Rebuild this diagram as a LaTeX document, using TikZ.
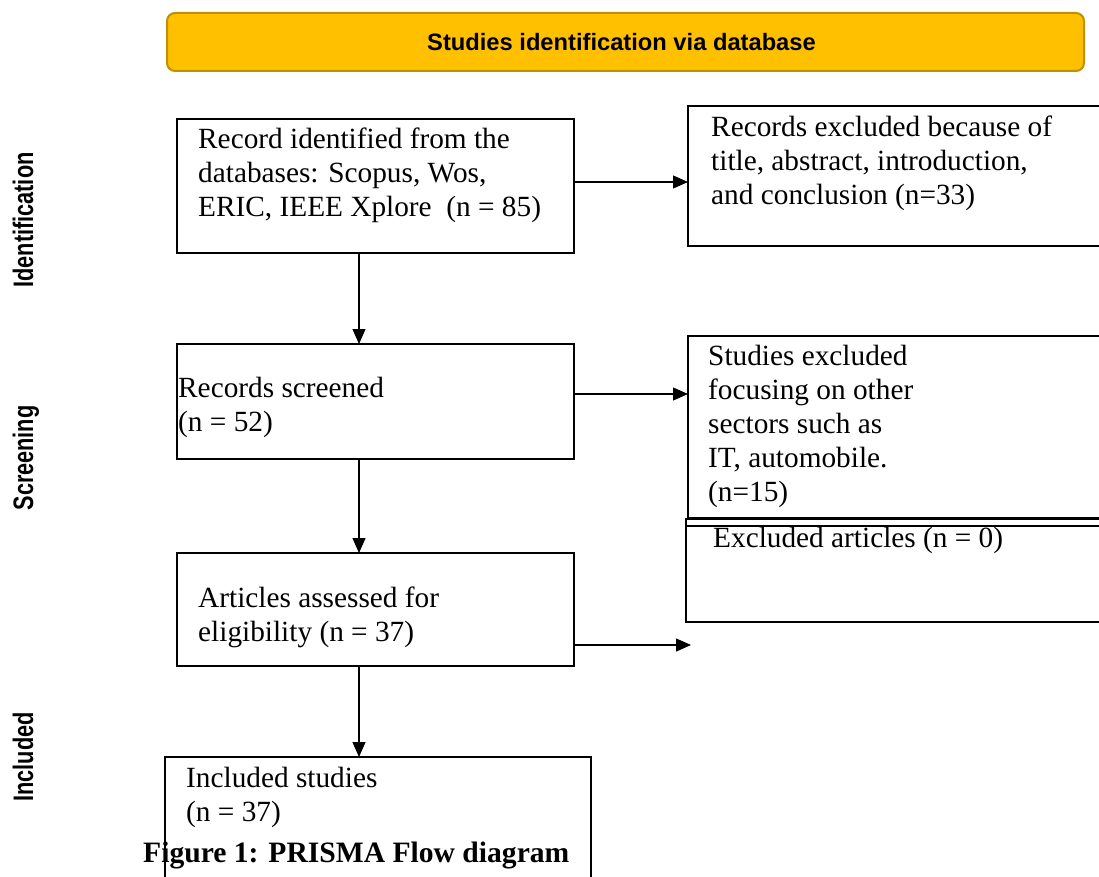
\documentclass[tikz,border=0pt]{standalone}
\usepackage{graphicx}
\usepackage{fontspec}
\setmainfont{Liberation Serif}
\newfontfamily\sansf{Liberation Sans}
\usetikzlibrary{arrows.meta}
\definecolor{bannerfill}{HTML}{FFC000}
\definecolor{bannerdraw}{HTML}{BF9000}
\begin{document}
\begin{tikzpicture}[x=1pt,y=-1pt,
  box/.style={draw=black, line width=2.2pt, rectangle, inner sep=0pt, outer sep=0pt, anchor=north west},
  txt/.style={anchor=north west, inner sep=0pt, align=left, font=\fontsize{29.3}{34}\selectfont},
  arr/.style={line width=1.2pt, -{Triangle[length=15pt,width=13pt]}},
  side/.style={rotate=90, anchor=base, inner sep=0pt, font=\sansf\bfseries\fontsize{21.7}{26}\selectfont}
]
\clip (0,0) rectangle (1099,877);
% banner
\node[draw=bannerdraw, fill=bannerfill, line width=2pt, rounded corners=8pt,
  minimum width=917pt, minimum height=58pt, anchor=north west, inner sep=0pt] (banner) at (166,12) {};
\node[font=\sansf\bfseries\fontsize{23.7}{28}\selectfont] (bannertext) at ([xshift=-4pt]banner.center) {Studies identification via database};
% side labels
\node[side] (sideid) at (33,220) {\scalebox{1}[1.3]{Identification}};
\node[side] (sidescr) at (33,458) {\scalebox{1}[1.3]{Screening}};
\node[side] (sideinc) at (33,757) {\scalebox{1}[1.3]{Included}};
% boxes
\node[box, minimum width=397pt, minimum height=134pt] (b1) at (177,119) {};
\node[box, minimum width=420pt, minimum height=140pt] (b2) at (688,106) {};
\node[box, minimum width=397pt, minimum height=115pt] (b3) at (177,344) {};
\node[box, minimum width=420pt, minimum height=182pt] (b4) at (688,336) {};
\node[box, minimum width=422pt, minimum height=103pt] (b5) at (686,519) {};
\draw[line width=2.2pt] ([yshift=-7pt]b5.north west) -- ([yshift=-7pt]b5.north east);
\node[box, minimum width=397pt, minimum height=113pt] (b6) at (177,553) {};
% caption (under the included box line)
\node[anchor=base west, inner sep=0pt, font=\bfseries\fontsize{29.6}{34}\selectfont] (caption) at (143,862) {Figure 1: PRISMA Flow diagram};
\node[box, minimum width=426pt, minimum height=160pt] (b7) at (165,757) {};
% texts
\node[txt] (t1) at (198,128) {\rule{0pt}{20pt}Record identified from the\\databases: Scopus, Wos,\\ERIC, IEEE Xplore\ \ (n = 85)};
\node[txt] (t2) at (711,116) {\rule{0pt}{20pt}Records excluded because of\\title, abstract, introduction,\\and conclusion (n=33)};
\node[txt] (t3) at (178,377) {\rule{0pt}{20pt}Records screened\\(n = 52)};
\node[txt] (t4) at (708,345) {\rule{0pt}{20pt}Studies excluded\\focusing on other\\sectors such as\\IT, automobile.\\(n=15)};
\node[txt] (t5) at (713,527) {\rule{0pt}{20pt}Excluded articles (n = 0)};
\node[txt] (t6) at (198,587) {\rule{0pt}{20pt}Articles assessed for\\eligibility (n = 37)};
\node[txt] (t7) at (186,767) {\rule{0pt}{20pt}Included studies\\(n = 37)};
% connectors
\coordinate (ax) at (359,0);
\coordinate (ay1) at (0,182);
\coordinate (ay2) at (0,394);
\coordinate (e6) at (691,645);
\draw[arr] (b1.south -| ax) -- (b3.north -| ax);
\draw[arr] (b3.south -| ax) -- (b6.north -| ax);
\draw[arr] (b6.south -| ax) -- (b7.north -| ax);
\draw[arr] (b1.east |- ay1) -- (b2.west |- ay1);
\draw[arr] (b3.east |- ay2) -- (b4.west |- ay2);
\draw[arr] (b6.east |- e6) -- (e6);
\end{tikzpicture}
\end{document}
